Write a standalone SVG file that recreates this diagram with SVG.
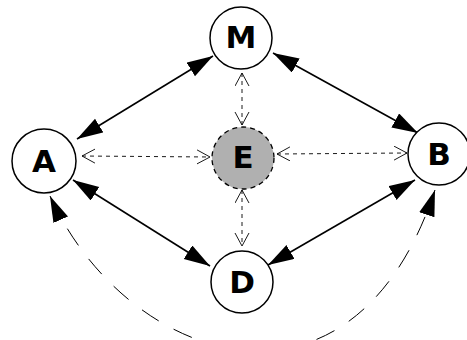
<svg xmlns="http://www.w3.org/2000/svg" width="467" height="340" viewBox="0 0 467 340">
<defs>
<style>
.node{fill:#fff;stroke:#000;stroke-width:1.5}
.gray{fill:#b0b0b0;stroke:#000;stroke-width:1.3;stroke-dasharray:5,4}
.lbl{font-family:"DejaVu Sans",Verdana,sans-serif;font-weight:bold;font-size:31px;text-anchor:middle;fill:#000}
.solid{fill:none;stroke:#000;stroke-width:1.6;marker-start:url(#fa);marker-end:url(#fa)}
.dash{fill:none;stroke:#000;stroke-width:0.9;stroke-dasharray:4,4;marker-start:url(#oa);marker-end:url(#oa)}
.curve{fill:none;stroke:#000;stroke-width:1;stroke-dasharray:20,17;marker-start:url(#fa);marker-end:url(#fa)}
</style>
<marker id="fa" markerUnits="userSpaceOnUse" markerWidth="28" markerHeight="18" refX="26" refY="8" orient="auto-start-reverse" viewBox="0 0 28 18">
<path d="M0,0 L26,8 L0,16 z" fill="#000"/>
</marker>
<marker id="oa" markerUnits="userSpaceOnUse" markerWidth="16" markerHeight="16" refX="13" refY="7.5" orient="auto-start-reverse" viewBox="0 0 16 16">
<path d="M0,0.5 L13,7.5 L0,14.5" fill="none" stroke="#000" stroke-width="0.9"/>
</marker>
</defs>
<g id="edges">
<path class="solid" d="M77,139 L213,56"/>
<path class="solid" d="M273,53 L418,133"/>
<path class="solid" d="M73,180 L210,266"/>
<path class="solid" d="M268,265 L415,180"/>
<path class="curve" d="M50,196 C126,364 352,440 435,190"/>
<path class="dash" d="M82,156 L210,157"/>
<path class="dash" d="M277,154 L407,153"/>
<path class="dash" d="M242,125 L242,73"/>
<path class="dash" d="M242,190 L242,246"/>
</g>
<g id="M"><circle class="node" cx="241" cy="38" r="31"/><text class="lbl" x="241" y="48">M</text></g>
<g id="E"><circle class="gray" cx="243" cy="158" r="31"/><text class="lbl" x="243" y="168">E</text></g>
<g id="A"><circle class="node" cx="44" cy="161" r="32"/><text class="lbl" x="44" y="172">A</text></g>
<g id="B"><circle class="node" cx="439" cy="154" r="31"/><text class="lbl" x="439" y="165">B</text></g>
<g id="D"><circle class="node" cx="242" cy="282" r="31"/><text class="lbl" x="242" y="293">D</text></g>
</svg>
